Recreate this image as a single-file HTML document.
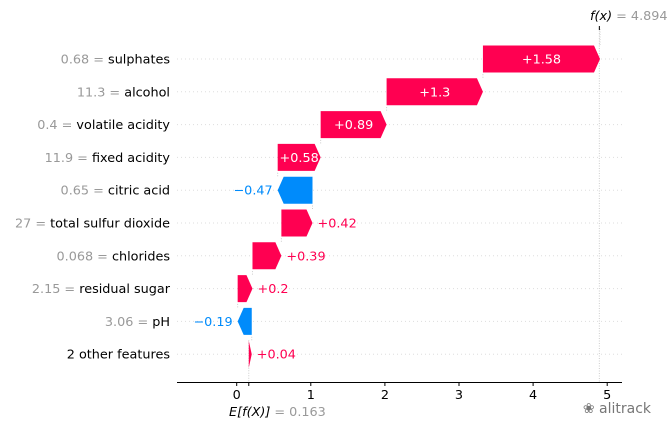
<!DOCTYPE html>
<html><head><meta charset="utf-8"><style>
body{margin:0;background:#fff}
svg{display:block;font-family:"DejaVu Sans","Liberation Sans",sans-serif}
</style></head><body>
<svg id="c" width="672" height="436"></svg>
<script>
const features=["sulphates","alcohol","volatile acidity","fixed acidity","citric acid","total sulfur dioxide","chlorides","residual sugar","pH","2 other features"];
const featureValues=["0.68","11.3","0.4","11.9","0.65","27","0.068","2.15","3.06",""];
const shapValues=[1.58,1.3,0.89,0.58,-0.47,0.42,0.39,0.2,-0.19,0.04];
const baseValue=0.163;
const fxValue=4.894;
const ticks=[0,1,2,3,4,5];
const svg=document.getElementById('c');
const NS='http://www.w3.org/2000/svg';
const x=v=>236.7+v*74.1;
const rowY=i=>59+i*32.8;
const FS=12.8;
function el(t,a,p){const e=document.createElementNS(NS,t);for(const k in a)e.setAttribute(k,a[k]);(p||svg).appendChild(e);return e;}
const n=features.length;const start=new Array(n);let acc=baseValue;
for(let i=n-1;i>=0;i--){start[i]=acc;acc+=shapValues[i];}
for(let i=0;i<n;i++){const g=el('line',{x1:177,x2:622,y1:rowY(i),y2:rowY(i),stroke:'#ddd','stroke-width':1,'stroke-dasharray':'1,3'});

}
for(let i=0;i<n;i++){const xe=x(start[i]+shapValues[i]);const y2=i>0?rowY(i-1)+14:28;
const l=el('line',{x1:xe,x2:xe,y1:rowY(i)-14,y2:y2,stroke:'#ccc','stroke-width':1,'stroke-dasharray':'1,1.5'});

}
const fxl=el('line',{x1:x(fxValue),x2:x(fxValue),y1:28,y2:383,stroke:'#ccc','stroke-width':1,'stroke-dasharray':'1,1.5'});


const bl=el('line',{x1:x(baseValue),x2:x(baseValue),y1:rowY(n-1)-14,y2:383,stroke:'#ccc','stroke-width':1,'stroke-dasharray':'1,1.5'});


for(let i=0;i<n;i++){
 const v=shapValues[i],s=start[i],e=s+v,y=rowY(i),h=13.5;
 const pos=v>0,col=pos?'#ff0051':'#008bfb';
 const x0=x(s),x1=x(e),w=Math.abs(x1-x0),hw=Math.min(6,w);
 let pts;
 if(pos)pts=`${x0},${y-h} ${x1-hw},${y-h} ${x1},${y} ${x1-hw},${y+h} ${x0},${y+h}`;
 else pts=`${x0},${y-h} ${x1+hw},${y-h} ${x1},${y} ${x1+hw},${y+h} ${x0},${y+h}`;
 const p=el('polygon',{points:pts,fill:col});
 
 
 const lab=(pos?'+':'\u2212')+Math.abs(v);
 let t;
 if(w>40){t=el('text',{x:(x0+x1)/2,y:y+4.5,'text-anchor':'middle',fill:'#fff','font-size':FS});}
 else if(pos){t=el('text',{x:x1+5,y:y+4.5,fill:col,'font-size':FS});}
 else{t=el('text',{x:x1-5,y:y+4.5,'text-anchor':'end',fill:col,'font-size':FS});}
 t.textContent=lab;
 
 
 const fl=el('text',{x:170,y:y+4.5,'text-anchor':'end','font-size':FS,fill:'#000'});
 if(featureValues[i]!==''){const a=el('tspan',{fill:'#999'},fl);a.textContent=featureValues[i]+' = ';}
 const b=el('tspan',{},fl);b.textContent=features[i];
 
 
}
const ax=el('line',{x1:177,x2:622,y1:382.5,y2:382.5,stroke:'#000','stroke-width':1});


for(const tv of ticks){const tk=el('line',{x1:x(tv),x2:x(tv),y1:382.5,y2:386,stroke:'#000'});


const tt=el('text',{x:x(tv),y:399,'text-anchor':'middle','font-size':FS});tt.textContent=tv;

}
const bt=el('line',{x1:x(baseValue),x2:x(baseValue),y1:382.5,y2:386,stroke:'#000'});


const et=el('text',{x:229,y:416,'text-anchor':'start','font-size':FS});
const e1=el('tspan',{'font-style':'italic'},et);e1.textContent='E[f(X)]';
const e2=el('tspan',{fill:'#999'},et);e2.textContent=' = '+baseValue;


const ft=el('line',{x1:x(fxValue),x2:x(fxValue),y1:26,y2:30,stroke:'#000'});


const fx=el('text',{x:590,y:20,'text-anchor':'start','font-size':FS});
const f1=el('tspan',{'font-style':'italic'},fx);f1.textContent='f(x)';
const f2=el('tspan',{fill:'#999'},fx);f2.textContent=' = '+fxValue;


const wm=el('text',{x:651,y:413,'text-anchor':'end','font-size':14,fill:'#777'});wm.textContent='\u2740 alitrack';


</script>
</body></html>
